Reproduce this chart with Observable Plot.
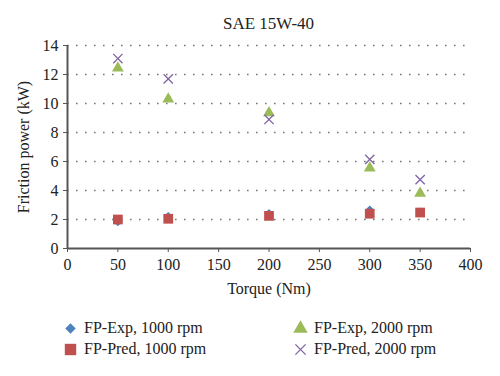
<!DOCTYPE html>
<html><head><meta charset="utf-8">
<script src="https://cdn.jsdelivr.net/npm/d3@7"></script>
<script src="https://cdn.jsdelivr.net/npm/@observablehq/plot@0.6"></script>
<style>
body{margin:0;background:#fff;font-family:"Liberation Serif","DejaVu Serif",serif;}
#wrap{position:relative;width:500px;height:376px;overflow:hidden;}
#title{position:absolute;left:0;top:14px;width:537px;text-align:center;font-size:17px;color:#222;}
#chart{position:absolute;left:0;top:36px;}
.leg{position:absolute;font-size:16px;color:#222;display:flex;align-items:center;}
.leg svg{margin-right:5px;}
</style></head>
<body><div id="wrap"><div id="title">SAE 15W-40</div><div id="chart"></div><div id="legend"></div></div>
<script>
const torque = [50, 100, 200, 300, 350];
const expLow = [1.85, 2.2, 2.4, 2.65, 2.5];
const predLow = [2.0, 2.05, 2.25, 2.4, 2.48];
const expHigh = [12.45, 10.3, 9.35, 5.55, 3.8];
const predHigh = [13.1, 11.7, 8.9, 6.15, 4.75];
const seriesNames = ["FP-Exp, 1000 rpm", "FP-Pred, 1000 rpm", "FP-Exp, 2000 rpm", "FP-Pred, 2000 rpm"];
const colors = ["#4f81bd", "#c0504d", "#9bbb59", "#8064a2"];
const xTicks = [0, 50, 100, 150, 200, 250, 300, 350, 400];
const yTicks = [0, 2, 4, 6, 8, 10, 12, 14];

const mk = (arr) => torque.map((t, i) => ({t, v: arr[i]}));
const font = '"Liberation Serif","DejaVu Serif",serif';

const plot = Plot.plot({
  width: 500, height: 264,
  marginLeft: 67, marginRight: 30, marginTop: 9, marginBottom: 52,
  style: {fontFamily: font, fontSize: "16px", color: "#222", background: "white"},
  x: {domain: [0, 400], ticks: xTicks, label: "Torque (Nm)", labelAnchor: "center", labelArrow: "none", labelOffset: 45},
  y: {domain: [0, 14], ticks: yTicks, label: "Friction power (kW)", labelAnchor: "center", labelArrow: "none", labelOffset: 50},
  marks: [
    Plot.gridY(yTicks.filter(d => d > 0), {stroke: "#777", strokeOpacity: 1, strokeWidth: 1.6, strokeDasharray: "1.6,7.4"}),
    Plot.axisX({ticks: xTicks, tickSize: 4, tickPadding: 6, stroke: "#555", fontSize: 16, label: "Torque (Nm)", labelAnchor: "center", labelArrow: "none", labelOffset: 45}),
    Plot.axisY({ticks: yTicks, tickSize: 4, tickPadding: 5, stroke: "#555", fontSize: 16, label: "Friction power (kW)", labelAnchor: "center", labelArrow: "none", labelOffset: 50}),
    Plot.ruleY([0], {stroke: "#555", strokeWidth: 1.8}),
    Plot.ruleX([0], {stroke: "#555", strokeWidth: 2}),
    Plot.dot(mk(expLow), {x: "t", y: "v", symbol: "diamond2", r: 4.2, fill: colors[0], stroke: "none"}),
    Plot.dot(mk(predLow), {x: "t", y: "v", symbol: "square", r: 5.5, fill: colors[1], stroke: "none"}),
    Plot.dot(mk(expHigh), {x: "t", y: "v", symbol: "triangle", r: 4.4, fill: colors[2], stroke: "none"}),
    Plot.dot(mk(predHigh), {x: "t", y: "v", symbol: "times", r: 4.3, stroke: colors[3], strokeWidth: 1.3, fill: "none"})
  ]
});
document.getElementById("chart").appendChild(plot);

// legend
const legendPos = [[62, 319], [62, 340], [292, 319], [292, 340]];
const symbolTypes = [d3.symbolDiamond2, d3.symbolSquare, d3.symbolTriangle, d3.symbolTimes];
const symbolSizes = [70, 130, 90, 70];
const leg = document.getElementById("legend");
seriesNames.forEach((name, i) => {
  const div = document.createElement("div");
  div.className = "leg";
  div.style.left = legendPos[i][0] + "px";
  div.style.top = legendPos[i][1] + "px";
  const s = d3.create("svg").attr("width", 17).attr("height", 17);
  const p = s.append("path").attr("transform", "translate(8.5,8.5)")
    .attr("d", d3.symbol(symbolTypes[i], symbolSizes[i])());
  if (i === 3) p.attr("fill", "none").attr("stroke", colors[i]).attr("stroke-width", 1.3);
  else p.attr("fill", colors[i]);
  div.appendChild(s.node());
  const span = document.createElement("span");
  span.textContent = name;
  div.appendChild(span);
  leg.appendChild(div);
});
</script>
</body></html>
